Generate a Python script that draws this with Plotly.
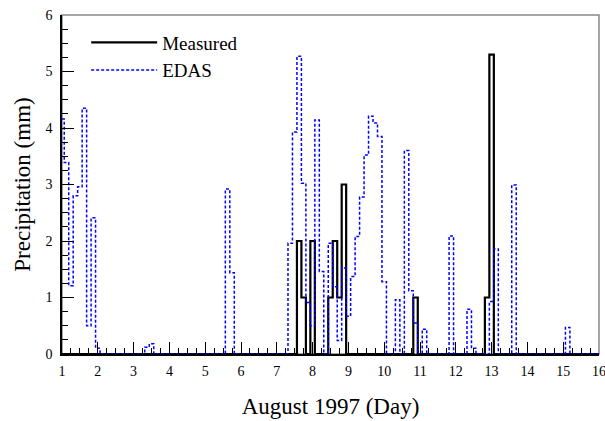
import numpy as np
import plotly.graph_objects as go

# 3-hourly bins (centres), August 1997 day
edas_t = [1.0, 1.125, 1.25, 1.375, 1.5, 1.625, 1.75, 1.875, 2.0,
          3.375, 3.5,
          5.625, 5.75,
          7.375, 7.5, 7.625, 7.75, 7.875, 8.0, 8.125, 8.25,
          8.5, 8.625, 8.75, 8.875, 9.0, 9.125, 9.25, 9.375, 9.5, 9.625, 9.75, 9.875, 10.0,
          10.375, 10.625, 10.75, 10.875, 11.125,
          11.875, 12.375, 12.5, 13.0, 13.125, 13.625, 15.125]
edas_v = [4.16, 3.39, 1.21, 2.80, 2.96, 4.35, 0.50, 2.41, 0.10,
          0.12, 0.18,
          2.92, 1.44,
          1.96, 3.93, 5.27, 3.02, 0.91, 0.50, 4.14, 1.46,
          1.96, 1.19, 0.24, 1.52, 0.67, 1.37, 2.08, 2.78, 3.52, 4.21, 4.09, 3.85, 1.28,
          0.96, 3.60, 1.12, 0.55, 0.44,
          2.09, 0.79, 0.10, 0.93, 1.86, 2.99, 0.47]

meas_t = [7.625, 7.75, 8.0, 8.5, 8.625, 8.75, 8.875, 10.875, 12.875, 13.0]
meas_v = [2.0, 1.0, 2.0, 1.0, 2.0, 1.0, 3.0, 1.0, 1.0, 5.3]

x_ticks = list(range(1, 17))
y_ticks = list(range(0, 7))

# full 3-hourly grid, zero where no precipitation
grid = np.round(np.arange(1.0, 16.0001, 0.125), 3)

def on_grid(ts, vs):
    out = np.zeros_like(grid)
    for t, v in zip(ts, vs):
        out[np.argmin(np.abs(grid - t))] = v
    return out

meas_full = on_grid(meas_t, meas_v)
edas_full = on_grid(edas_t, edas_v)

serif = "Liberation Serif"

fig = go.Figure()
fig.add_trace(go.Scatter(x=grid, y=meas_full, mode="lines", name="Measured",
                         line=dict(color="black", width=2.2, shape="hvh")))
fig.add_trace(go.Scatter(x=grid, y=edas_full, mode="lines", name="EDAS",
                         line=dict(color="#0000ff", width=1.5, shape="hvh", dash="3px,2px")))

fig.update_layout(
    width=605, height=421,
    margin=dict(l=62, r=6, t=15, b=67),
    paper_bgcolor="white", plot_bgcolor="white",
    font=dict(family=serif, color="black", size=14),
    showlegend=True, hovermode=False,
    legend=dict(x=0.045, y=0.975, xanchor="left", yanchor="top",
                bgcolor="rgba(0,0,0,0)", font=dict(family=serif, size=19),
                itemwidth=66, tracegroupgap=0),
    xaxis=dict(range=[1, 16], tickvals=x_ticks, ticktext=[str(v) for v in x_ticks],
               ticks="inside", ticklen=12, tickwidth=1, tickcolor="black",
               minor=dict(dtick=0.25, tick0=1, ticks="inside", ticklen=6, tickwidth=1, tickcolor="black"),
               showline=True, linecolor="black", linewidth=1.5,
               showgrid=False, zeroline=False, automargin=False,
               ticklabeloverflow="allow", ticklabelstandoff=3,
               tickfont=dict(family=serif, size=14),
               title=dict(text="August 1997 (Day)", font=dict(family=serif, size=23), standoff=20)),
    yaxis=dict(range=[0, 6], tickvals=y_ticks, ticktext=[str(v) for v in y_ticks],
               ticks="inside", ticklen=12, tickwidth=1, tickcolor="black",
               minor=dict(dtick=0.25, tick0=0, ticks="inside", ticklen=6, tickwidth=1, tickcolor="black"),
               showline=True, linecolor="black", linewidth=1.5,
               showgrid=False, zeroline=False, automargin=False,
               ticklabeloverflow="allow", ticklabelstandoff=5,
               tickfont=dict(family=serif, size=14),
               title=dict(text="Precipitation (mm)", font=dict(family=serif, size=23), standoff=8)),
    shapes=[dict(type="rect", xref="paper", yref="paper", x0=0, y0=0, x1=1, y1=1,
                 line=dict(color="#888888", width=1.5), layer="below")],
)

# remove the page's default 8px body margin so the figure sits at the window origin
fig.write_html("out.html", config={"displayModeBar": False},
               post_script="document.body.style.margin='0px';")
